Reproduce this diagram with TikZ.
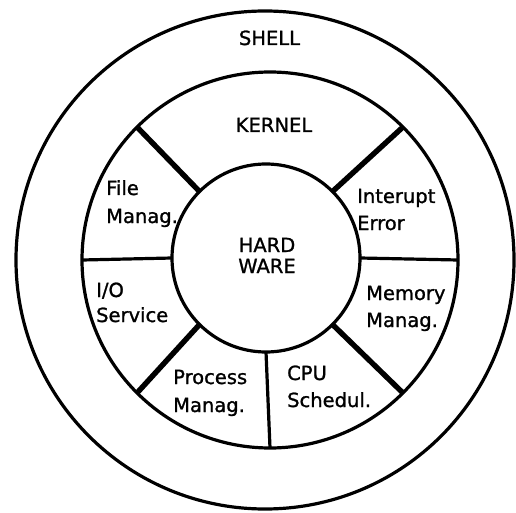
\documentclass[tikz,border=0pt]{standalone}
\usepackage{fontspec}
\setmainfont{DejaVu Sans}[FakeBold=1.2]
\begin{document}
\begin{tikzpicture}[x=1pt,y=1pt,
  ring/.style={circle, draw, line width=3.2pt, inner sep=0pt, outer sep=0pt},
  thindiv/.style={line width=3.2pt},
  thickdiv/.style={line width=5.4pt},
  lab/.style={font=\fontsize{19.5}{23}\selectfont, inner sep=0pt, anchor=base west},
  labc/.style={font=\fontsize{19.5}{23}\selectfont, inner sep=0pt, anchor=base}]
\useasboundingbox (0,0) rectangle (516,512);
% rings
\node[ring, minimum size=498pt] (shell) at (265,252) {};
\node[ring, minimum size=376pt] (kernel) at (270,252) {};
\node[ring, minimum size=188pt] (hw) at (266,254) {};
% dividers
\draw[thickdiv] (hw.135) -- (kernel.135);
\draw[thickdiv] (hw.45) -- (kernel.45);
\draw[thickdiv] (hw.-45) -- (kernel.-45);
\draw[thickdiv] (hw.225) -- (kernel.225);
\draw[thindiv] (hw.180) -- (kernel.180);
\draw[thindiv] (hw.0) -- (kernel.0);
\draw[thindiv] (hw.270) -- (kernel.270);
% labels
\node[labc] (tshell) at (269.5,467) {SHELL};
\node[labc] (tkernel) at (274,380) {KERNEL};
\node[labc] (thw1) at (267,260) {HARD};
\node[labc] (thw2) at (267,239) {WARE};
\node[lab] (tfile1) at (106,317) {File};
\node[lab] (tfile2) at (106,289) {Manag.};
\node[lab] (tint1) at (357,309) {Interupt};
\node[lab] (tint2) at (357,282) {Error};
\node[lab] (tio1) at (96,215) {I/O};
\node[lab] (tio2) at (96,190) {Service};
\node[lab] (tmem1) at (366,212) {Memory};
\node[lab] (tmem2) at (366,185) {Manag.};
\node[lab] (tproc1) at (173,128) {Process};
\node[lab] (tproc2) at (173,100) {Manag.};
\node[lab] (tcpu1) at (287,132) {CPU};
\node[lab] (tcpu2) at (287,105) {Schedul.};
\end{tikzpicture}
\end{document}
